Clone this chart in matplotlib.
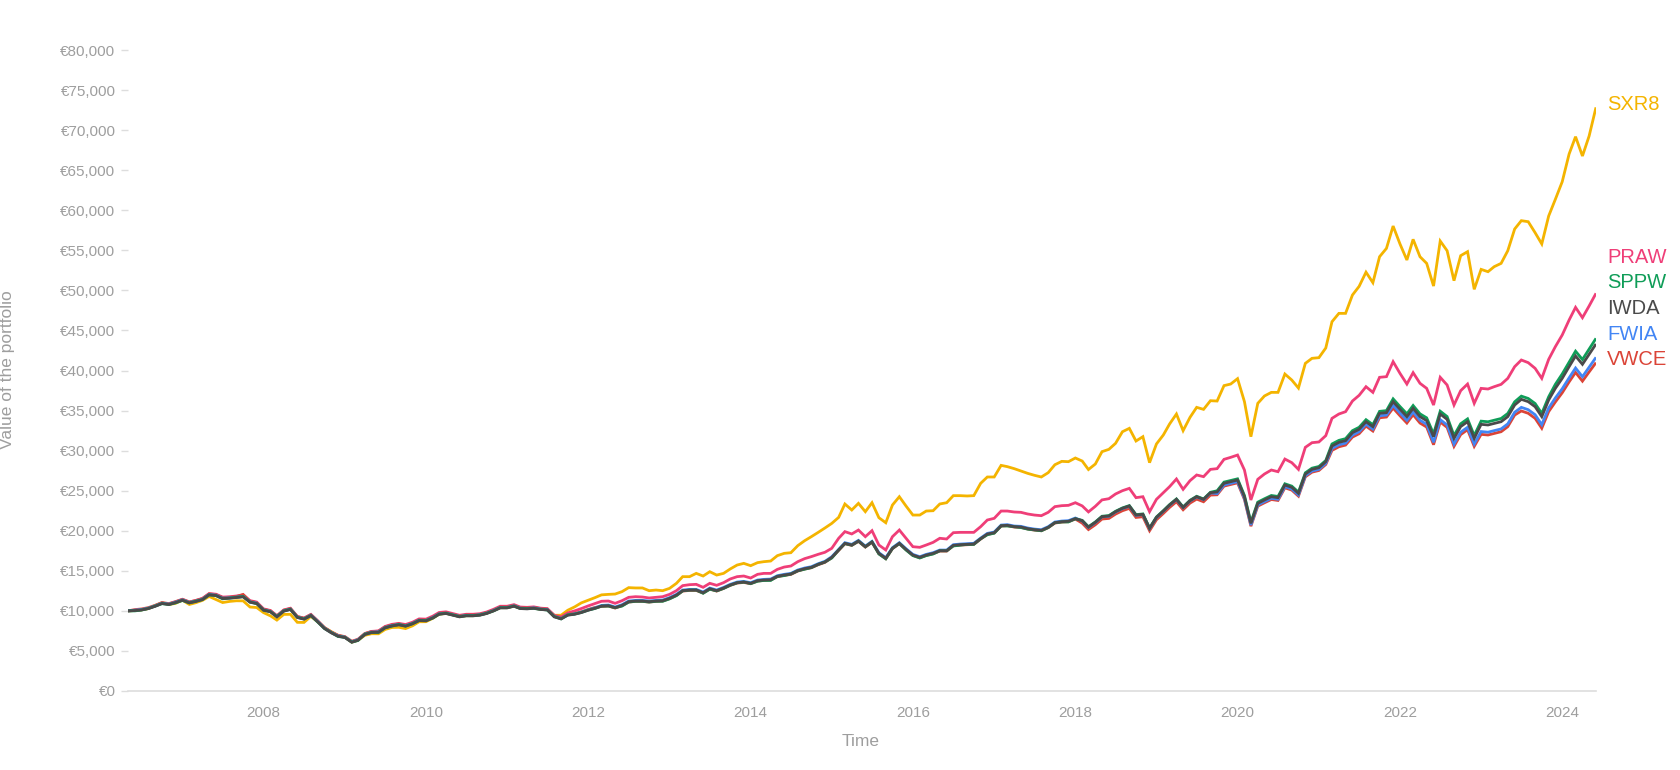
"""
Value of a 10,000 EUR portfolio per ETF, monthly, May 2006 - June 2024.
Writes out.png (1680x770).
"""

import matplotlib
matplotlib.use("Agg")
import matplotlib.pyplot as plt
from matplotlib.ticker import FuncFormatter, MultipleLocator
import matplotlib.dates as mdates
import pandas as pd

plt.rcParams["font.family"] = ["Liberation Sans", "DejaVu Sans"]

START = "2006-05-01"

# values in thousands of EUR, one per month
SXR8 = [
    10.00, 10.04, 10.12, 10.29, 10.68, 11.02, 10.79, 10.94, 11.33, 10.80,
    11.01, 11.31, 11.80, 11.41, 11.04, 11.18, 11.26, 11.25, 10.48, 10.42,
    9.78, 9.38, 8.85, 9.56, 9.57, 8.57, 8.56, 9.32, 8.63, 7.90,
    7.40, 6.94, 6.72, 6.09, 6.34, 6.95, 7.15, 7.14, 7.68, 7.93,
    7.95, 7.79, 8.13, 8.64, 8.65, 9.08, 9.58, 9.69, 9.50, 9.28,
    9.40, 9.40, 9.50, 9.70, 10.03, 10.40, 10.40, 10.60, 10.32, 10.28,
    10.35, 10.20, 10.15, 9.45, 9.46, 10.08, 10.50, 11.00, 11.33, 11.66,
    12.00, 12.06, 12.10, 12.40, 12.90, 12.86, 12.86, 12.52, 12.60, 12.52,
    12.81, 13.44, 14.27, 14.27, 14.68, 14.35, 14.89, 14.47, 14.68, 15.23,
    15.72, 15.93, 15.64, 16.02, 16.14, 16.22, 16.89, 17.18, 17.26, 18.14,
    18.76, 19.26, 19.80, 20.34, 20.92, 21.67, 23.34, 22.59, 23.42, 22.38,
    23.50, 21.63, 21.00, 23.21, 24.25, 23.09, 21.96, 21.96, 22.46, 22.50,
    23.34, 23.50, 24.38, 24.38, 24.34, 24.38, 25.92, 26.71, 26.71, 28.16,
    28.00, 27.75, 27.46, 27.16, 26.92, 26.71, 27.25, 28.24, 28.66, 28.62,
    29.08, 28.70, 27.64, 28.33, 29.87, 30.16, 30.91, 32.36, 32.78, 31.20,
    31.74, 28.50, 30.83, 31.95, 33.32, 34.57, 32.49, 34.15, 35.40, 35.15,
    36.23, 36.19, 38.11, 38.31, 38.98, 36.11, 31.74, 35.90, 36.82, 37.27,
    37.27, 39.56, 38.81, 37.81, 40.89, 41.52, 41.60, 42.81, 46.09, 47.13,
    47.13, 49.42, 50.50, 52.27, 50.96, 54.20, 55.24, 58.03, 55.79, 53.79,
    56.37, 54.20, 53.37, 50.54, 56.16, 54.95, 51.21, 54.33, 54.83, 50.13,
    52.62, 52.33, 52.96, 53.37, 54.95, 57.66, 58.70, 58.57, 57.20, 55.79,
    59.28, 61.36, 63.56, 67.02, 69.18, 66.77, 69.26, 72.84,
]

PRAW = [
    10.00, 10.06, 10.15, 10.33, 10.62, 10.97, 10.86, 11.12, 11.42, 11.10,
    11.30, 11.56, 12.16, 12.08, 11.72, 11.76, 11.86, 12.00, 11.28, 11.10,
    10.25, 10.05, 9.40, 10.12, 10.33, 9.30, 9.10, 9.55, 8.72, 7.88,
    7.32, 6.90, 6.72, 6.14, 6.42, 7.17, 7.44, 7.50, 8.06, 8.32,
    8.44, 8.30, 8.58, 9.00, 8.97, 9.35, 9.80, 9.88, 9.67, 9.45,
    9.58, 9.58, 9.65, 9.86, 10.20, 10.58, 10.58, 10.78, 10.48, 10.44,
    10.50, 10.34, 10.28, 9.46, 9.25, 9.75, 10.00, 10.29, 10.62, 10.92,
    11.20, 11.23, 10.94, 11.27, 11.69, 11.77, 11.73, 11.61, 11.69, 11.77,
    12.06, 12.52, 13.15, 13.27, 13.31, 12.94, 13.44, 13.19, 13.52, 13.98,
    14.27, 14.35, 14.10, 14.56, 14.68, 14.68, 15.18, 15.47, 15.60, 16.14,
    16.52, 16.77, 17.06, 17.31, 17.81, 19.06, 19.89, 19.60, 20.09, 19.26,
    20.01, 18.22, 17.60, 19.26, 20.09, 19.06, 18.01, 17.93, 18.22, 18.55,
    19.06, 18.97, 19.76, 19.80, 19.80, 19.80, 20.51, 21.34, 21.55, 22.46,
    22.46, 22.34, 22.30, 22.09, 21.96, 21.88, 22.30, 23.01, 23.13, 23.17,
    23.50, 23.10, 22.35, 23.05, 23.85, 24.00, 24.59, 25.00, 25.29, 24.13,
    24.25, 22.38, 23.92, 24.75, 25.50, 26.46, 25.17, 26.25, 26.96, 26.75,
    27.66, 27.75, 28.91, 29.16, 29.45, 27.58, 23.84, 26.42, 27.08, 27.58,
    27.37, 28.95, 28.50, 27.66, 30.41, 30.99, 31.08, 31.87, 34.03, 34.57,
    34.86, 36.19, 36.90, 37.98, 37.27, 39.15, 39.23, 41.10, 39.64, 38.31,
    39.73, 38.40, 37.77, 35.69, 39.15, 38.19, 35.69, 37.48, 38.31, 35.90,
    37.77, 37.69, 37.98, 38.27, 39.02, 40.48, 41.31, 40.98, 40.27, 39.02,
    41.39, 42.97, 44.43, 46.30, 47.88, 46.59, 48.05, 49.63,
]

SPPW = [
    10.0, 10.0, 10.1, 10.3, 10.6, 10.9, 10.8, 11.0, 11.3, 11.0,
    11.2, 11.4, 12.0, 11.9, 11.5, 11.6, 11.7, 11.8, 11.1, 10.9,
    10.1, 9.9, 9.3, 10.0, 10.2, 9.2, 9.0, 9.4, 8.6, 7.8,
    7.3, 6.8, 6.7, 6.1, 6.3, 7.1, 7.3, 7.3, 7.9, 8.1,
    8.3, 8.1, 8.4, 8.8, 8.8, 9.1, 9.6, 9.7, 9.5, 9.3,
    9.4, 9.4, 9.5, 9.7, 10.0, 10.4, 10.4, 10.6, 10.3, 10.3,
    10.3, 10.2, 10.1, 9.3, 9.0, 9.5, 9.6, 9.8, 10.1, 10.3,
    10.6, 10.6, 10.4, 10.6, 11.1, 11.2, 11.2, 11.1, 11.2, 11.2,
    11.5, 11.9, 12.5, 12.6, 12.6, 12.2, 12.7, 12.5, 12.8, 13.2,
    13.5, 13.6, 13.4, 13.7, 13.8, 13.8, 14.3, 14.4, 14.6, 15.0,
    15.2, 15.4, 15.8, 16.1, 16.6, 17.6, 18.4, 18.2, 18.7, 18.0,
    18.6, 17.1, 16.5, 17.8, 18.4, 17.6, 16.9, 16.6, 16.9, 17.1,
    17.5, 17.5, 18.1, 18.2, 18.3, 18.3, 19.0, 19.5, 19.7, 20.6,
    20.6, 20.5, 20.4, 20.2, 20.1, 20.0, 20.4, 21.0, 21.1, 21.1,
    21.5, 21.30, 20.50, 21.10, 21.81, 21.89, 22.43, 22.85, 23.14, 22.01,
    22.10, 20.35, 21.72, 22.51, 23.26, 23.97, 22.97, 23.80, 24.30, 23.97,
    24.80, 24.99, 26.07, 26.27, 26.48, 24.40, 21.07, 23.57, 23.99, 24.40,
    24.28, 25.86, 25.57, 24.82, 27.23, 27.81, 28.02, 28.77, 30.83, 31.28,
    31.49, 32.49, 32.91, 33.86, 33.24, 34.90, 34.99, 36.46, 35.50, 34.59,
    35.63, 34.59, 34.09, 32.09, 34.92, 34.25, 31.88, 33.35, 33.96, 31.88,
    33.68, 33.60, 33.80, 34.01, 34.64, 36.09, 36.80, 36.51, 35.88, 34.64,
    36.72, 38.27, 39.57, 41.03, 42.41, 41.37, 42.67, 44.01,
]

IWDA = [
    10.00, 10.04, 10.12, 10.29, 10.58, 10.92, 10.79, 11.04, 11.33, 11.00,
    11.16, 11.41, 12.00, 11.91, 11.54, 11.58, 11.66, 11.75, 11.08, 10.92,
    10.08, 9.88, 9.25, 9.96, 10.17, 9.17, 8.96, 9.42, 8.63, 7.80,
    7.25, 6.84, 6.67, 6.09, 6.34, 7.05, 7.30, 7.34, 7.88, 8.13,
    8.25, 8.09, 8.38, 8.79, 8.75, 9.13, 9.58, 9.67, 9.46, 9.25,
    9.38, 9.38, 9.46, 9.67, 10.00, 10.37, 10.37, 10.58, 10.29, 10.25,
    10.33, 10.17, 10.12, 9.25, 9.00, 9.46, 9.58, 9.79, 10.08, 10.33,
    10.60, 10.65, 10.40, 10.69, 11.15, 11.23, 11.23, 11.15, 11.23, 11.27,
    11.57, 11.98, 12.52, 12.60, 12.60, 12.27, 12.77, 12.52, 12.85, 13.23,
    13.52, 13.60, 13.44, 13.77, 13.85, 13.89, 14.31, 14.48, 14.60, 15.02,
    15.27, 15.43, 15.81, 16.10, 16.68, 17.60, 18.43, 18.22, 18.72, 18.01,
    18.60, 17.18, 16.56, 17.81, 18.43, 17.68, 16.97, 16.68, 16.97, 17.18,
    17.51, 17.51, 18.18, 18.26, 18.30, 18.35, 19.01, 19.59, 19.76, 20.63,
    20.68, 20.51, 20.47, 20.26, 20.13, 20.05, 20.43, 21.01, 21.13, 21.18,
    21.51, 21.25, 20.45, 21.05, 21.76, 21.84, 22.38, 22.80, 23.09, 21.96,
    22.05, 20.30, 21.67, 22.46, 23.21, 23.92, 22.92, 23.75, 24.25, 23.92,
    24.75, 24.84, 25.92, 26.12, 26.33, 24.25, 20.92, 23.42, 23.84, 24.25,
    24.13, 25.71, 25.42, 24.67, 27.08, 27.66, 27.87, 28.62, 30.58, 31.03,
    31.24, 32.24, 32.66, 33.61, 32.99, 34.65, 34.74, 36.11, 35.15, 34.24,
    35.28, 34.24, 33.74, 31.74, 34.57, 33.90, 31.53, 33.00, 33.61, 31.53,
    33.28, 33.20, 33.40, 33.61, 34.24, 35.69, 36.40, 36.11, 35.48, 34.24,
    36.32, 37.77, 39.02, 40.48, 41.81, 40.77, 42.02, 43.31,
]

FWIA = [
    10.00, 10.09, 10.17, 10.34, 10.63, 10.97, 10.84, 11.09, 11.38, 11.05,
    11.21, 11.46, 12.05, 11.96, 11.59, 11.63, 11.71, 11.80, 11.13, 10.97,
    10.13, 9.93, 9.30, 10.01, 10.22, 9.22, 9.01, 9.47, 8.68, 7.85,
    7.30, 6.89, 6.72, 6.14, 6.39, 7.10, 7.35, 7.39, 7.93, 8.18,
    8.30, 8.14, 8.43, 8.84, 8.80, 9.18, 9.63, 9.72, 9.51, 9.30,
    9.43, 9.43, 9.51, 9.72, 10.05, 10.42, 10.42, 10.63, 10.34, 10.30,
    10.38, 10.22, 10.17, 9.30, 9.05, 9.51, 9.63, 9.84, 10.13, 10.38,
    10.68, 10.73, 10.48, 10.77, 11.23, 11.31, 11.31, 11.23, 11.31, 11.35,
    11.65, 12.06, 12.60, 12.68, 12.68, 12.35, 12.85, 12.60, 12.93, 13.31,
    13.60, 13.68, 13.52, 13.85, 13.93, 13.97, 14.39, 14.56, 14.68, 15.10,
    15.35, 15.51, 15.89, 16.18, 16.76, 17.68, 18.51, 18.30, 18.80, 18.09,
    18.68, 17.26, 16.64, 17.89, 18.51, 17.76, 17.05, 16.76, 17.05, 17.26,
    17.59, 17.59, 18.26, 18.34, 18.38, 18.43, 19.09, 19.67, 19.84, 20.71,
    20.76, 20.59, 20.55, 20.34, 20.21, 20.13, 20.51, 21.09, 21.21, 21.26,
    21.59, 21.22, 20.42, 21.02, 21.73, 21.81, 22.35, 22.77, 23.06, 21.93,
    22.02, 20.27, 21.64, 22.43, 23.18, 23.89, 22.89, 23.72, 24.22, 23.89,
    24.72, 24.64, 25.72, 25.92, 26.13, 24.05, 20.72, 23.22, 23.64, 24.05,
    23.93, 25.51, 25.22, 24.47, 26.88, 27.46, 27.67, 28.42, 30.28, 30.73,
    30.94, 31.94, 32.36, 33.31, 32.69, 34.35, 34.44, 35.66, 34.70, 33.79,
    34.83, 33.79, 33.29, 31.04, 33.87, 33.20, 30.83, 32.30, 32.91, 30.83,
    32.38, 32.30, 32.50, 32.71, 33.34, 34.79, 35.40, 35.11, 34.48, 33.24,
    35.32, 36.57, 37.72, 39.08, 40.31, 39.22, 40.42, 41.64,
]

VWCE = [
    10.00, 10.16, 10.24, 10.41, 10.70, 11.04, 10.91, 11.16, 11.45, 11.12,
    11.28, 11.53, 12.12, 12.03, 11.66, 11.70, 11.78, 12.05, 11.20, 11.04,
    10.20, 10.00, 9.37, 10.08, 10.29, 9.29, 9.08, 9.54, 8.75, 7.92,
    7.37, 6.96, 6.79, 6.21, 6.46, 7.17, 7.42, 7.46, 8.00, 8.25,
    8.37, 8.19, 8.48, 8.89, 8.85, 9.23, 9.68, 9.77, 9.56, 9.35,
    9.48, 9.48, 9.56, 9.77, 10.10, 10.47, 10.47, 10.68, 10.39, 10.35,
    10.43, 10.27, 10.22, 9.35, 9.10, 9.56, 9.68, 9.89, 10.18, 10.43,
    10.55, 10.60, 10.35, 10.64, 11.10, 11.18, 11.18, 11.10, 11.18, 11.22,
    11.52, 11.93, 12.47, 12.55, 12.55, 12.22, 12.72, 12.47, 12.80, 13.18,
    13.47, 13.55, 13.39, 13.72, 13.80, 13.84, 14.26, 14.43, 14.55, 14.97,
    15.22, 15.38, 15.76, 16.05, 16.63, 17.55, 18.38, 18.17, 18.67, 17.96,
    18.55, 17.13, 16.51, 17.76, 18.38, 17.63, 16.92, 16.63, 16.92, 17.13,
    17.46, 17.46, 18.13, 18.21, 18.25, 18.30, 18.96, 19.54, 19.71, 20.58,
    20.63, 20.46, 20.42, 20.21, 20.08, 20.00, 20.38, 20.96, 21.08, 21.13,
    21.46, 20.95, 20.15, 20.75, 21.46, 21.54, 22.08, 22.50, 22.79, 21.66,
    21.75, 20.00, 21.37, 22.16, 22.91, 23.62, 22.62, 23.45, 23.95, 23.62,
    24.45, 24.49, 25.57, 25.77, 25.98, 23.90, 20.57, 23.07, 23.49, 23.90,
    23.78, 25.36, 25.07, 24.32, 26.73, 27.31, 27.52, 28.27, 30.03, 30.48,
    30.69, 31.69, 32.11, 33.06, 32.44, 34.10, 34.19, 35.31, 34.35, 33.44,
    34.48, 33.44, 32.94, 30.74, 33.57, 32.90, 30.53, 32.00, 32.61, 30.53,
    32.03, 31.95, 32.15, 32.36, 32.99, 34.44, 34.95, 34.66, 34.03, 32.79,
    34.87, 36.07, 37.22, 38.58, 39.76, 38.67, 39.82, 40.98,
]

# drawing order: first is at the bottom
SERIES = [
    ("SXR8", SXR8, "#F4B400"),
    ("PRAW", PRAW, "#EF3E78"),
    ("VWCE", VWCE, "#DB4437"),
    ("FWIA", FWIA, "#4285F4"),
    ("SPPW", SPPW, "#0F9D58"),
    ("IWDA", IWDA, "#4A4A4A"),
]

GREY_TEXT = "#9E9E9E"
AXIS_LINE = "#DDDDDD"


def main():
    n = len(IWDA)
    for name, vals, _ in SERIES:
        assert len(vals) == n, (name, len(vals))
    dates = pd.date_range(START, periods=n, freq="MS")

    fig = plt.figure(figsize=(16.8, 7.7), dpi=100)
    ax = fig.add_axes([128 / 1680, 1 - 691 / 770, (1596 - 128) / 1680, (691 - 50) / 770])

    for name, vals, color in SERIES:
        ax.plot(dates, [v * 1000 for v in vals], color=color, lw=2.0,
                solid_joinstyle="miter", solid_capstyle="butt")

    ax.set_xlim(dates[0], dates[-1])
    ax.set_ylim(0, 80000)

    ax.yaxis.set_major_locator(MultipleLocator(5000))
    ax.yaxis.set_major_formatter(FuncFormatter(lambda v, _: f"€{v:,.0f}"))
    ax.xaxis.set_major_locator(mdates.YearLocator(2))
    ax.xaxis.set_major_formatter(mdates.DateFormatter("%Y"))

    ax.tick_params(axis="y", length=5, width=1, color=AXIS_LINE, pad=4,
                   labelsize=11, labelcolor=GREY_TEXT)
    ax.tick_params(axis="x", length=0, pad=11, labelsize=11, labelcolor=GREY_TEXT)

    for side in ("top", "right", "left"):
        ax.spines[side].set_visible(False)
    ax.spines["bottom"].set_color(AXIS_LINE)
    ax.spines["bottom"].set_linewidth(1.2)

    fig.text(861 / 1680, 1 - 741 / 770, "Time", ha="center", va="center",
             fontsize=12.5, color=GREY_TEXT)
    fig.text(8 / 1680, 1 - 370 / 770, "Value of the portfolio", ha="center",
             va="center", rotation=90, fontsize=12.5, color=GREY_TEXT)

    # end labels, pushed apart so they do not overlap
    gap = 3200
    ends = sorted(((vals[-1] * 1000, name, color) for name, vals, color in SERIES))
    prev = None
    for end, name, color in ends:
        y = end if prev is None else max(end, prev + gap)
        prev = y
        ax.annotate(name, xy=(1, y), xycoords=("axes fraction", "data"),
                    xytext=(11, 3), textcoords="offset pixels",
                    ha="left", va="center", fontsize=14.5, color=color,
                    annotation_clip=False)

    fig.savefig("out.png", dpi=100)
    plt.close(fig)


if __name__ == "__main__":
    main()
